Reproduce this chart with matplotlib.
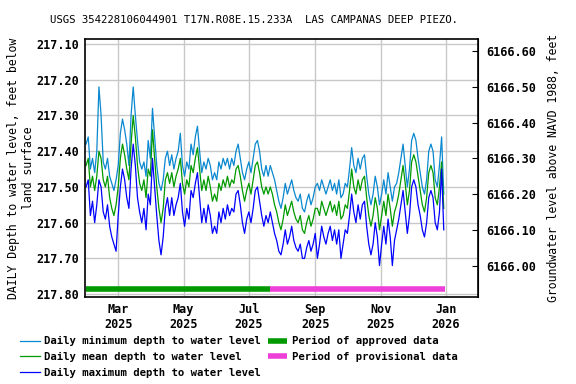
import numpy as np
import pandas as pd
import matplotlib
matplotlib.use("Agg")
import matplotlib.pyplot as plt
import matplotlib.dates as mdates

# readings every 2 days, depth below land surface (ft)
dates = pd.date_range("2025-01-30", periods=168, freq="2D")

depth_min = [
    217.38, 217.36, 217.45, 217.42, 217.46, 217.40, 217.22, 217.30, 217.43, 217.45, 217.42, 217.47,
    217.49, 217.51, 217.48, 217.44, 217.35, 217.31, 217.34, 217.38, 217.44, 217.30, 217.22, 217.30,
    217.37, 217.43, 217.45, 217.43, 217.47, 217.37, 217.42, 217.28, 217.36, 217.44, 217.49, 217.51,
    217.48, 217.42, 217.40, 217.44, 217.41, 217.45, 217.42, 217.40, 217.35, 217.44, 217.47, 217.43,
    217.45, 217.38, 217.41, 217.36, 217.33, 217.40, 217.46, 217.43, 217.45, 217.42, 217.44, 217.48,
    217.46, 217.48, 217.43, 217.45, 217.42, 217.44, 217.42, 217.45, 217.42, 217.44, 217.40, 217.38,
    217.42, 217.46, 217.48, 217.45, 217.43, 217.46, 217.42, 217.38, 217.37, 217.40, 217.45, 217.47,
    217.44, 217.47, 217.44, 217.46, 217.48, 217.51, 217.54, 217.56, 217.53, 217.49, 217.52, 217.50,
    217.48, 217.51, 217.53, 217.54, 217.52, 217.56, 217.57, 217.54, 217.52, 217.55, 217.53, 217.50,
    217.49, 217.51, 217.48, 217.50, 217.52, 217.50, 217.48, 217.51, 217.49, 217.52, 217.48, 217.53,
    217.52, 217.49, 217.50, 217.45, 217.39, 217.44, 217.46, 217.42, 217.45, 217.42, 217.41, 217.47,
    217.52, 217.55, 217.52, 217.47, 217.50, 217.55, 217.52, 217.48, 217.52, 217.46, 217.50, 217.54,
    217.50, 217.49, 217.46, 217.42, 217.38, 217.44, 217.50, 217.45, 217.37, 217.35, 217.37, 217.42,
    217.46, 217.50, 217.52, 217.48, 217.40, 217.38, 217.40, 217.48, 217.50, 217.44, 217.36, 217.52,
]

depth_mean = [
    217.44, 217.42, 217.50, 217.47, 217.51, 217.47, 217.40, 217.42, 217.48, 217.50, 217.47, 217.53,
    217.56, 217.58, 217.55, 217.50, 217.42, 217.38, 217.41, 217.45, 217.48, 217.38, 217.30, 217.36,
    217.44, 217.49, 217.51, 217.48, 217.53, 217.45, 217.47, 217.34, 217.42, 217.50, 217.56, 217.60,
    217.56, 217.48, 217.46, 217.49, 217.46, 217.50, 217.47, 217.45, 217.42, 217.49, 217.52, 217.48,
    217.50, 217.44, 217.46, 217.42, 217.39, 217.45, 217.51, 217.48, 217.51, 217.47, 217.50, 217.54,
    217.52, 217.54, 217.49, 217.51, 217.48, 217.50, 217.47, 217.50, 217.48, 217.49, 217.45, 217.44,
    217.47, 217.51, 217.54, 217.51, 217.49, 217.52, 217.48, 217.44, 217.43, 217.46, 217.50, 217.52,
    217.50, 217.52, 217.50, 217.52, 217.55, 217.57, 217.60, 217.62, 217.59, 217.55, 217.58, 217.56,
    217.54, 217.57, 217.59, 217.60, 217.58, 217.62, 217.63, 217.60, 217.58, 217.61, 217.59, 217.56,
    217.56, 217.58, 217.54, 217.56, 217.58, 217.56, 217.54, 217.57, 217.55, 217.58, 217.54, 217.59,
    217.58, 217.55, 217.56, 217.51, 217.45, 217.50, 217.52, 217.48, 217.51, 217.48, 217.47, 217.53,
    217.58, 217.61, 217.58, 217.53, 217.56, 217.62, 217.58, 217.54, 217.58, 217.52, 217.56, 217.61,
    217.57, 217.55, 217.52, 217.48, 217.44, 217.49, 217.55, 217.51, 217.43, 217.41, 217.43, 217.47,
    217.51, 217.55, 217.57, 217.53, 217.46, 217.44, 217.46, 217.53, 217.55, 217.50, 217.43, 217.56,
]

depth_max = [
    217.50, 217.48, 217.58, 217.54, 217.60, 217.55, 217.48, 217.50, 217.57, 217.59, 217.55, 217.61,
    217.64, 217.66, 217.68, 217.58, 217.50, 217.45, 217.48, 217.53, 217.56, 217.45, 217.38, 217.44,
    217.53, 217.57, 217.60, 217.56, 217.62, 217.52, 217.55, 217.42, 217.50, 217.58, 217.65, 217.69,
    217.64, 217.56, 217.53, 217.58, 217.53, 217.58, 217.55, 217.53, 217.49, 217.57, 217.61, 217.56,
    217.59, 217.51, 217.53, 217.49, 217.46, 217.53, 217.60, 217.56, 217.60, 217.55, 217.58, 217.63,
    217.61, 217.63, 217.57, 217.60, 217.56, 217.59, 217.55, 217.58, 217.56, 217.57, 217.52, 217.51,
    217.55, 217.60, 217.63, 217.59, 217.57, 217.60, 217.56, 217.51, 217.50, 217.54, 217.58, 217.61,
    217.58, 217.60, 217.57, 217.60, 217.63, 217.65, 217.68, 217.69, 217.66, 217.62, 217.66, 217.64,
    217.61, 217.65, 217.67, 217.68, 217.66, 217.70, 217.70, 217.67, 217.65, 217.68, 217.66, 217.63,
    217.70, 217.66, 217.61, 217.64, 217.66, 217.63, 217.61, 217.65, 217.62, 217.66, 217.62, 217.70,
    217.66, 217.62, 217.63, 217.58, 217.52, 217.57, 217.60, 217.55, 217.59, 217.55, 217.54, 217.61,
    217.66, 217.69, 217.66, 217.60, 217.64, 217.72, 217.66, 217.61, 217.66, 217.59, 217.64, 217.72,
    217.65, 217.62, 217.59, 217.55, 217.51, 217.57, 217.63, 217.58, 217.50, 217.48, 217.50, 217.55,
    217.58, 217.62, 217.64, 217.60, 217.53, 217.51, 217.53, 217.60, 217.62, 217.57, 217.45, 217.62,
]

# approval periods
approved = ["2025-01-30", "2025-07-21"]
provisional = ["2025-07-21", "2025-12-31"]

datum_offset = 6383.72  # land surface elevation, NAVD 1988

font = "DejaVu Sans Mono"
plt.rcParams["font.family"] = font
plt.rcParams["font.weight"] = "bold"

fig = plt.figure(figsize=(5.76, 3.84), dpi=100)
ax = fig.add_axes([0.1476, 0.2266, 0.6823, 0.6718])

ax.plot(dates, depth_min, color="#0a88d0", lw=0.9, label="Daily minimum depth to water level")
ax.plot(dates, depth_mean, color="#009a00", lw=0.9, label="Daily mean depth to water level")
ax.plot(dates, depth_max, color="#0000ff", lw=0.9, label="Daily maximum depth to water level")

bar_y = 217.785
ax.plot(pd.to_datetime(approved), [bar_y, bar_y], color="#009a00", lw=4,
        solid_capstyle="butt", label="Period of approved data")
ax.plot(pd.to_datetime(provisional), [bar_y, bar_y], color="#ee40d8", lw=4,
        solid_capstyle="butt", label="Period of provisional data")

ax.set_ylim(217.808, 217.086)
ax.set_xlim(pd.Timestamp("2025-01-29"), pd.Timestamp("2026-01-31"))
ax.set_yticks(np.arange(217.1, 217.81, 0.1))
ax.yaxis.set_major_formatter(plt.FormatStrFormatter("%.2f"))
ax.xaxis.set_major_locator(mdates.MonthLocator(bymonth=[1, 3, 5, 7, 9, 11]))
ax.xaxis.set_major_formatter(mdates.DateFormatter("%b\n%Y"))
ax.grid(True, color="#c8c8c8", lw=1)
ax.tick_params(labelsize=8.5, length=0, pad=4)
for s in ax.spines.values():
    s.set_linewidth(1.2)

ax.set_ylabel("DAILY Depth to water level, feet below\nland surface", fontsize=8.3, labelpad=1)

ax2 = ax.secondary_yaxis("right", functions=(lambda d: datum_offset - d, lambda e: datum_offset - e))
ax2.set_yticks(np.arange(6166.0, 6166.61, 0.1))
ax2.yaxis.set_major_formatter(plt.FormatStrFormatter("%.2f"))
ax2.tick_params(labelsize=8.5, direction="in", length=4, pad=6)
ax2.set_ylabel("Groundwater level above NAVD 1988, feet", fontsize=8.3, labelpad=8)

fig.suptitle("USGS 354228106044901 T17N.R08E.15.233A  LAS CAMPANAS DEEP PIEZO.",
             x=0.441, y=0.962, fontsize=7.7)

fig.legend(loc="upper left", bbox_to_anchor=(0.028, 0.135), ncol=2, frameon=False,
           fontsize=7.7, handlelength=1.8, handletextpad=0.45, columnspacing=0.6,
           labelspacing=0.52, borderaxespad=0)

fig.savefig("out.png", dpi=100)
